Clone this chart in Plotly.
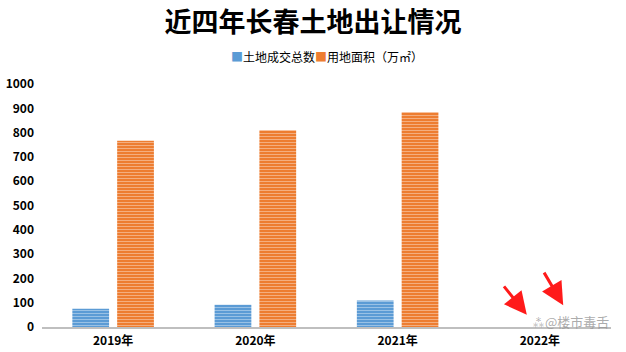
import plotly.graph_objects as go

years = ["2019年", "2020年", "2021年", "2022年"]
land_deals = [75, 92, 109, None]
land_area = [766, 810, 884, None]
y_ticks = [0, 100, 200, 300, 400, 500, 600, 700, 800, 900, 1000]
series_names = ["土地成交总数", "用地面积（万㎡）"]
series_colors = ["#5B9BD5", "#ED7D31"]

FONT = "Noto Sans CJK SC, Noto Sans, sans-serif"

fig = go.Figure()
for name, vals, col in zip(series_names, [land_deals, land_area], series_colors):
    fig.add_trace(go.Bar(
        x=years, y=vals, name=name,
        marker=dict(color=col, line=dict(width=0),
                    pattern=dict(shape="-", fgcolor="rgba(255,255,255,0.75)", bgcolor=col,
                                 size=3, solidity=0.35)),
    ))

fig.update_layout(
    width=626, height=352,
    margin=dict(l=42, r=15, t=84, b=25),
    paper_bgcolor="white", plot_bgcolor="white",
    barmode="group", bargap=0.37, bargroupgap=0.18,
    font=dict(family=FONT, color="black", size=12),
    title=dict(text="<b>近四年长春土地出让情况</b>", x=0.5, xanchor="center",
               y=0.937, yanchor="middle", font=dict(size=27, color="black", family=FONT)),
    showlegend=False,
)
fig.update_xaxes(showline=True, linecolor="#BFBFBF", linewidth=2, showgrid=False,
                 ticks="", automargin=False, ticklabelstandoff=2,
                 tickfont=dict(size=12, family=FONT, weight="bold"))
fig.update_yaxes(range=[0, 1000], tickvals=y_ticks, showgrid=False, zeroline=False,
                 showline=False, ticks="", ticklabelstandoff=7, automargin=False,
                 tickfont=dict(size=12, family=FONT, weight="bold"))

# legend drawn as a compact text line
legend_html = "".join(
    f'<span style="color:{c}">■</span>{n}' for n, c in zip(series_names, series_colors)
)
fig.add_annotation(x=0.5, y=1 + 27 / 243, xref="paper", yref="paper", text=legend_html,
                   showarrow=False, xanchor="center", yanchor="middle",
                   font=dict(size=12, color="black", family=FONT))

# red arrows and watermark
fig.add_annotation(x=0.852, y=0.05, ax=-24, ay=-30, xref="paper", yref="paper",
                   showarrow=True, arrowhead=2, arrowsize=1.5, arrowwidth=3, arrowcolor="#FF1A1A", text="")
fig.add_annotation(x=0.916, y=0.09, ax=-20, ay=-34, xref="paper", yref="paper",
                   showarrow=True, arrowhead=2, arrowsize=1.5, arrowwidth=3, arrowcolor="#FF1A1A", text="")
fig.add_annotation(x=1.0, y=0.024, xref="paper", yref="paper", xanchor="right", yanchor="middle",
                   text="⁂@楼市毒舌", showarrow=False,
                   font=dict(size=13, color="rgba(150,150,150,0.8)", family=FONT))

fig.write_html("out.html")
